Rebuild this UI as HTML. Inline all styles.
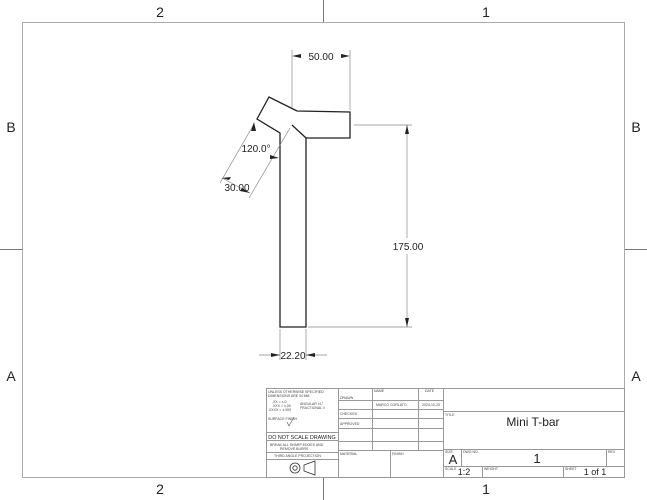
<!DOCTYPE html>
<html><head><style>body{margin:0;background:#fff}svg{display:block}</style></head><body>
<svg width="647" height="500" viewBox="0 0 647 500" xmlns="http://www.w3.org/2000/svg" font-family="Liberation Sans, sans-serif">
<rect x="22.5" y="22.5" width="602" height="455" fill="none" stroke="#aaa" stroke-width="1"/>
<g stroke="#777" stroke-width="1">
<line x1="323.5" y1="0" x2="323.5" y2="22"/><line x1="323.5" y1="478" x2="323.5" y2="500"/>
<line x1="0" y1="249.5" x2="22" y2="249.5"/><line x1="625" y1="249.5" x2="647" y2="249.5"/>
</g>
<g font-size="14" fill="#222" text-anchor="middle">
<text x="160" y="17">2</text><text x="486" y="17">1</text>
<text x="160" y="494">2</text><text x="486" y="494">1</text>
<text x="11" y="132">B</text><text x="636" y="132">B</text>
<text x="11" y="381">A</text><text x="636" y="381">A</text>
</g>
<!-- part -->
<g fill="none" stroke="#222" stroke-width="1.3">
<polyline points="297,111 269,97 257,119 280,133 280,327 306,327 306,138 350,138 350,112 297,111"/>
<line x1="292" y1="125" x2="306" y2="138"/>
</g>
<g stroke="#888" stroke-width="0.7" fill="none">
<line x1="292" y1="50" x2="292" y2="108"/>
<line x1="350" y1="50" x2="350" y2="110"/>
<line x1="354" y1="125" x2="412" y2="125"/>
<line x1="308" y1="327" x2="412" y2="327"/>
<line x1="407" y1="125" x2="407" y2="238"/><line x1="407" y1="254" x2="407" y2="327"/>
<line x1="280" y1="329" x2="280" y2="360"/><line x1="306" y1="329" x2="306" y2="360"/>
<line x1="259" y1="355" x2="280" y2="355"/><line x1="306" y1="355" x2="327" y2="355"/>
<line x1="254" y1="124" x2="220" y2="183"/>
<line x1="290" y1="128" x2="249" y2="198"/>
<line x1="222" y1="178" x2="250" y2="193"/>
</g>
<g fill="#222">
<polygon points="292,56 301,54 301,58"/><polygon points="350,56 341,54 341,58"/>
<polygon points="407,125 405,134 409,134"/><polygon points="407,327 405,318 409,318"/>
<polygon points="280,355 271,353 271,357"/><polygon points="306,355 315,353 315,357"/>
<polygon points="254,122 251,131 256,131"/><polygon points="279,158 270,155 270,159"/>
<polygon points="222,178 229,180 231,177"/><polygon points="250,193 242,188 240,191"/>
</g>
<g font-size="10" fill="#222" text-anchor="middle">
<text x="321" y="60">50.00</text>
<text x="408" y="250">175.00</text>
<text x="293" y="359">22.20</text>
<text x="256" y="152">120.0°</text>
<text x="237" y="191">30.00</text>
</g>
<!-- title block -->
<g stroke="#999" stroke-width="1" fill="none">
<rect x="266.5" y="388.5" width="358" height="89"/>
<line x1="338.5" y1="388" x2="338.5" y2="478"/>
<line x1="443.5" y1="388" x2="443.5" y2="478"/>
<line x1="372.5" y1="388" x2="372.5" y2="450"/>
<line x1="418.5" y1="388" x2="418.5" y2="450"/>
<line x1="338" y1="400.5" x2="443" y2="400.5"/>
<line x1="338" y1="409.5" x2="443" y2="409.5"/>
<line x1="338" y1="418.5" x2="443" y2="418.5"/>
<line x1="338" y1="428.5" x2="443" y2="428.5"/>
<line x1="338" y1="441.5" x2="443" y2="441.5"/>
<line x1="338" y1="450.5" x2="443" y2="450.5"/>
<line x1="390.5" y1="450" x2="390.5" y2="478"/>
<line x1="266" y1="432.5" x2="338" y2="432.5"/>
<line x1="266" y1="440.5" x2="338" y2="440.5"/>
<line x1="266" y1="452.5" x2="338" y2="452.5"/>
<line x1="266" y1="459.5" x2="338" y2="459.5"/>
<line x1="443" y1="411.5" x2="625" y2="411.5"/>
<line x1="443" y1="449.5" x2="625" y2="449.5"/>
<line x1="443" y1="466.5" x2="625" y2="466.5"/>
<line x1="461.5" y1="449" x2="461.5" y2="466"/>
<line x1="606.5" y1="449" x2="606.5" y2="466"/>
<line x1="482.5" y1="466" x2="482.5" y2="478"/>
<line x1="563.5" y1="466" x2="563.5" y2="478"/>
</g>
<g font-size="3.5" fill="#444">
<text x="268" y="393">UNLESS OTHERWISE SPECIFIED:</text>
<text x="268" y="397">DIMENSIONS ARE IN MM</text>
<text x="272" y="403">.XX = ±.0</text><text x="272" y="407">.XXX = ±.00</text><text x="268" y="411">.XXXX = ±.000</text>
<text x="300" y="405">ANGULAR ±1°</text><text x="300" y="409">FRACTIONAL ±</text>
<text x="268" y="420">SURFACE FINISH</text>
<text x="270" y="446">BREAK ALL SHARP EDGES AND</text><text x="280" y="450">REMOVE BURRS</text>
<text x="274" y="457">THIRD ANGLE PROJECTION</text>
<text x="340" y="399">DRAWN</text><text x="340" y="415">CHECKED</text><text x="340" y="425">APPROVED</text>
<text x="374" y="392">NAME</text><text x="425" y="392">DATE</text>
<text x="376" y="406">MARCO CORLATO</text><text x="422" y="406">2024-10-23</text>
<text x="340" y="455">MATERIAL</text><text x="392" y="455">FINISH</text>
<text x="445" y="416">TITLE</text><text x="445" y="453">SIZE</text><text x="463" y="453">DWG NO.</text>
<text x="608" y="453">REV</text><text x="445" y="470">SCALE</text><text x="484" y="470">WEIGHT</text><text x="565" y="470">SHEET</text>
</g>
<polyline points="287,422 289,426 294,417" fill="none" stroke="#555" stroke-width="0.6"/>
<text x="302" y="439" font-size="5.4" fill="#222" text-anchor="middle">DO NOT SCALE DRAWING</text>
<circle cx="295" cy="468" r="5" fill="none" stroke="#333" stroke-width="0.8"/>
<circle cx="295" cy="468" r="2.2" fill="none" stroke="#333" stroke-width="0.8"/>
<polygon points="304,465 315,461 315,475 304,471" fill="none" stroke="#333" stroke-width="0.8"/>
<g fill="#222" text-anchor="middle">
<text x="533" y="426" font-size="12">Mini T-bar</text>
<text x="453" y="464" font-size="13">A</text>
<text x="537" y="463" font-size="13">1</text>
<text x="464" y="475" font-size="9">1:2</text>
<text x="595" y="475" font-size="9">1 of 1</text>
</g>
</svg>
</body></html>
